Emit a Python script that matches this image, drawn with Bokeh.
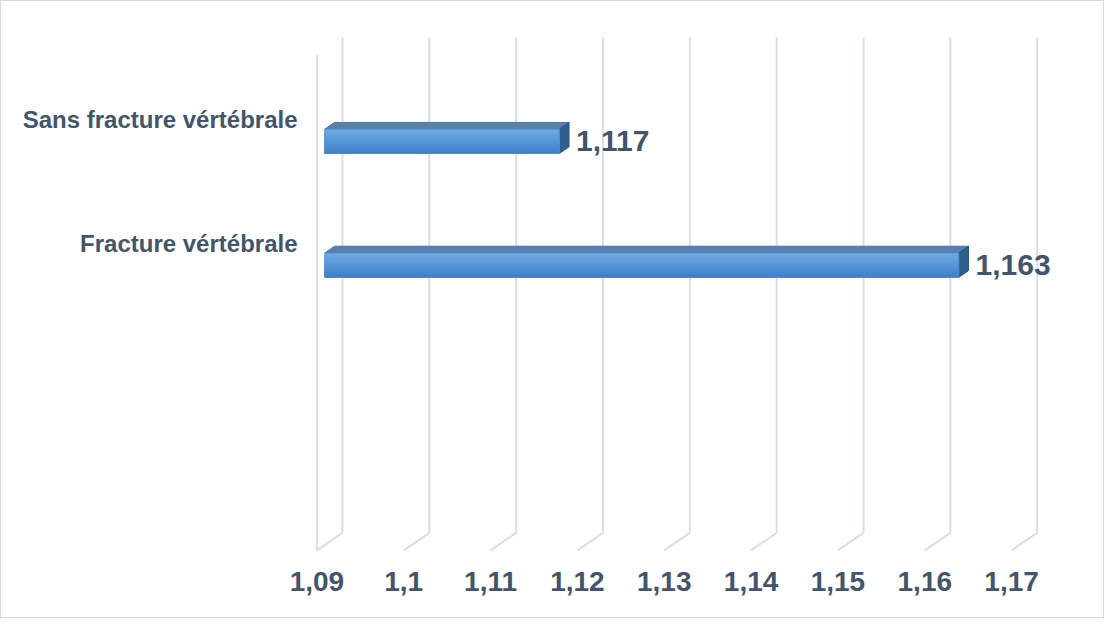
from bokeh.plotting import figure
from bokeh.models import Range1d, FixedTicker, CustomJSTickFormatter
from bokeh.core.properties import value
from bokeh.embed import file_html
from bokeh.resources import INLINE

# ---- data ----
categories = ["Sans fracture vértébrale", "Fracture vértébrale"]
values = [1.117, 1.163]
x_ticks = [1.09, 1.10, 1.11, 1.12, 1.13, 1.14, 1.15, 1.16, 1.17]
x_min = 1.09

# ---- layout / style constants ----
W, H = 1104, 618
PX_PER_X = 8684.0      # pixels per data unit on x (front plane)
PX_PER_Y = 123.8       # pixels per category slot
N_SLOTS = 4
DX = 25.6 / PX_PER_X   # depth offset (x)
DY = 17.5 / PX_PER_Y   # depth offset (y)
F1, F2 = 0.31, 0.69    # bar front/back depth fractions
BAR_SHIFT = -0.24
BAR_HALF = 12.2 / PX_PER_Y
TEXT = "#44546A"
GRID = "#D9DEE7"
FONT = "Liberation Sans"

WALL_X_PX = 315.4      # pixel of x_min on front plane
FLOOR_Y_PX = 548.8     # pixel of floor front edge
frame_left_px, frame_right_px = 300, 1100
frame_top_px, frame_bottom_px = 8, 555
x_start = x_min - (WALL_X_PX - frame_left_px) / PX_PER_X
x_end = x_start + (frame_right_px - frame_left_px) / PX_PER_X
y_start = -(frame_bottom_px - FLOOR_Y_PX) / PX_PER_Y
y_end = (FLOOR_Y_PX - frame_top_px) / PX_PER_Y

p = figure(width=W, height=H, output_backend="svg", toolbar_location=None,
           x_range=Range1d(x_start, x_end), y_range=Range1d(y_start, y_end),
           min_border_left=frame_left_px, min_border_right=W - frame_right_px,
           min_border_top=frame_top_px, min_border_bottom=H - frame_bottom_px)
p.outline_line_color = None
p.xgrid.visible = False
p.ygrid.visible = False
p.background_fill_color = "white"
p.border_fill_color = "white"
p.styles = {"border": "1px solid #D9D9D9"}

# x axis
xa = p.xaxis[0]
xa.ticker = FixedTicker(ticks=x_ticks)
xa.formatter = CustomJSTickFormatter(code="return String(Number(tick.toFixed(2))).replace('.', ',');")
xa.axis_line_color = None
xa.major_tick_line_color = None
xa.minor_tick_line_color = None
xa.major_tick_out = 0
xa.major_label_standoff = 15
xa.major_label_text_font = FONT
xa.major_label_text_font_style = "bold"
xa.major_label_text_font_size = "28px"
xa.major_label_text_color = TEXT

# y axis (categories)
slot_pos = [N_SLOTS - i - 0.5 for i in range(len(categories))]
label_pos = [s - 0.02 for s in slot_pos]
ya = p.yaxis[0]
ya.ticker = FixedTicker(ticks=label_pos)
ya.formatter = CustomJSTickFormatter(
    args=dict(labels=categories, pos=label_pos),
    code="""
    for (let i = 0; i < pos.length; i++) { if (Math.abs(pos[i] - tick) < 1e-6) return labels[i]; }
    return '';
    """)
ya.axis_line_color = None
ya.major_tick_line_color = None
ya.minor_tick_line_color = None
ya.major_tick_out = 0
ya.major_label_standoff = 4
ya.major_label_text_font = FONT
ya.major_label_text_font_style = "bold"
ya.major_label_text_font_size = "24px"
ya.major_label_text_color = TEXT

# ---- walls / gridlines ----
xs_back = [[t + DX, t + DX] for t in x_ticks]
ys_back = [[DY, N_SLOTS + DY] for t in x_ticks]
p.multi_line(xs_back, ys_back, line_color=GRID, line_width=2)
xs_floor = [[t, t + DX] for t in x_ticks]
ys_floor = [[0, DY] for t in x_ticks]
p.multi_line(xs_floor, ys_floor, line_color=GRID, line_width=2)
p.line([x_min, x_min], [0, N_SLOTS], line_color=GRID, line_width=2)

# ---- 3D bars ----
def lerp_color(c1, c2, t):
    a = [int(c1[i:i + 2], 16) for i in (1, 3, 5)]
    b = [int(c2[i:i + 2], 16) for i in (1, 3, 5)]
    return "#%02x%02x%02x" % tuple(round(a[k] + (b[k] - a[k]) * t) for k in range(3))

N_STRIPS = 16
top_c, bot_c = "#72AAE2", "#3D80C9"
for cat, v, s in zip(categories, values, slot_pos):
    c = s + BAR_SHIFT
    x0f, x1f = x_min + F1 * DX, v + F1 * DX
    x0b, x1b = x_min + F2 * DX, v + F2 * DX
    ytf, ybf = c + BAR_HALF + F1 * DY, c - BAR_HALF + F1 * DY
    ytb, ybb = c + BAR_HALF + F2 * DY, c - BAR_HALF + F2 * DY
    # top face
    p.patch([x0f, x1f, x1b, x0b], [ytf, ytf, ytb, ytb],
            fill_color="#5A80AA", line_color="#4F749C", line_width=1)
    # right face
    p.patch([x1f, x1b, x1b, x1f], [ytf, ytb, ybb, ybf],
            fill_color="#2F5E8F", line_color="#2A5580", line_width=1)
    # front face gradient (overlapping strips, each covering down to the bottom)
    hgt = ytf - ybf
    for k in range(N_STRIPS):
        y_hi = ytf - hgt * k / N_STRIPS
        col = lerp_color(top_c, bot_c, (k + 0.5) / N_STRIPS)
        p.quad(left=x0f, right=x1f, top=y_hi, bottom=ybf,
               fill_color=col, line_color=None)
    p.quad(left=x0f, right=x1f, top=ytf, bottom=ybf,
           fill_color=None, line_color="#4A8BD0", line_width=1)
    # data label
    p.text(x=[x1b], y=[c + F1 * DY], text=[("%.3f" % v).replace(".", ",")],
           x_offset=7, text_align="left", text_baseline="middle",
           text_font=value(FONT), text_font_style="bold",
           text_font_size="30px", text_color=TEXT)

open("out.html", "w").write(file_html(p, INLINE))
